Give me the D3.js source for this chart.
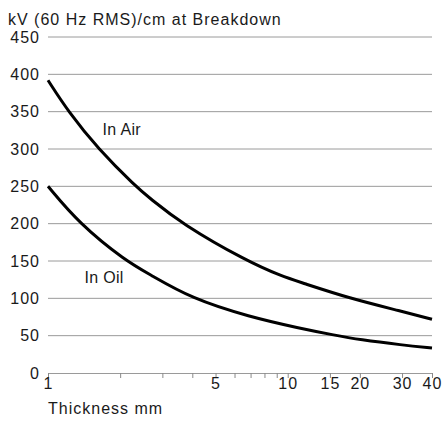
<!DOCTYPE html>
<html>
<head>
<meta charset="utf-8">
<script src="https://cdn.jsdelivr.net/npm/d3@7"></script>
<style>
  body { margin: 0; background: #fff; }
  svg text { font-family: "Liberation Sans", Arial, sans-serif; font-size: 16px; fill: #1a1a1a; letter-spacing: 1px; }
</style>
</head>
<body>
<script>
// values
const airThickness = [1, 1.215, 1.62, 2.32, 2.66, 3.61, 6.73, 9.56, 11.2, 18.1, 30, 40]
const airKv = [392, 350, 300, 250, 234, 200, 150, 129, 122, 100, 82.5, 72]

const oilThickness = [1, 1.35, 2.11, 2.66, 3.95, 6.95, 11.2, 15.5, 20, 30, 40]
const oilKv = [250, 200, 150, 132, 100, 75, 60, 51, 44.5, 37.5, 33.5]

const yTicks = [0, 50, 100, 150, 200, 250, 300, 350, 400, 450]
const xTicks = [1, 2, 3, 4, 5, 6, 7, 8, 9, 10, 15, 20, 30, 40]
const xTickLabels = [1, 5, 10, 15, 20, 30, 40]

const width = 443
const height = 430

const d3 = window.d3

const x = d3.scaleLog().domain([1, 40]).range([48, 432])
const y = d3.scaleLinear().domain([0, 450]).range([373, 37])

const svg = d3.select('body')
  .append('svg')
  .attr('width', width)
  .attr('height', height)

// grid lines
svg.append('g')
  .attr('class', 'grid')
  .selectAll('line')
  .data(yTicks.filter((d) => d > 0))
  .enter()
  .append('line')
  .attr('x1', x(1))
  .attr('x2', x(40))
  .attr('y1', (d) => y(d))
  .attr('y2', (d) => y(d))
  .attr('stroke', '#9a9a9a')
  .attr('stroke-width', 1)

// y labels
svg.append('g')
  .selectAll('text')
  .data(yTicks)
  .enter()
  .append('text')
  .attr('x', 40)
  .attr('y', (d) => y(d))
  .attr('dy', '0.36em')
  .style('text-anchor', 'end')
  .text((d) => d)

// x axis
const xAxis = svg.append('g')
  .attr('class', 'x axis')
  .attr('transform', 'translate(0,' + y(0) + ')')
  .call(d3.axisBottom(x)
    .tickValues(xTicks)
    .tickSize(5)
    .tickPadding(0)
    .tickFormat((d) => xTickLabels.includes(d) ? d : ''))

xAxis.select('.domain').attr('stroke', '#9a9a9a')
xAxis.selectAll('.tick line').attr('stroke', '#8a8a8a')
xAxis.selectAll('.tick text')
  .attr('fill', '#1a1a1a')
  .style('font-size', '16px')
  .style('font-family', '"Liberation Sans", Arial, sans-serif')

svg.append('text')
  .attr('x', 48)
  .attr('y', 414)
  .text('Thickness mm')

svg.append('text')
  .attr('x', 8)
  .attr('y', 25)
  .text('kV (60 Hz RMS)/cm at Breakdown')

const line = d3.line()
  .x((d) => x(d[0]))
  .y((d) => y(d[1]))
  .curve(d3.curveBasis)

svg.append('path')
  .datum(d3.zip(airThickness, airKv))
  .attr('d', line)
  .attr('fill', 'none')
  .attr('stroke', '#000')
  .attr('stroke-width', 3)

svg.append('path')
  .datum(d3.zip(oilThickness, oilKv))
  .attr('d', line)
  .attr('fill', 'none')
  .attr('stroke', '#000')
  .attr('stroke-width', 3)

svg.append('text')
  .attr('x', x(1.69))
  .attr('y', y(319))
  .style('letter-spacing', '0.3px')
  .text('In Air')

svg.append('text')
  .attr('x', x(1.42))
  .attr('y', y(120))
  .style('letter-spacing', '0.3px')
  .text('In Oil')
</script>
</body>
</html>
